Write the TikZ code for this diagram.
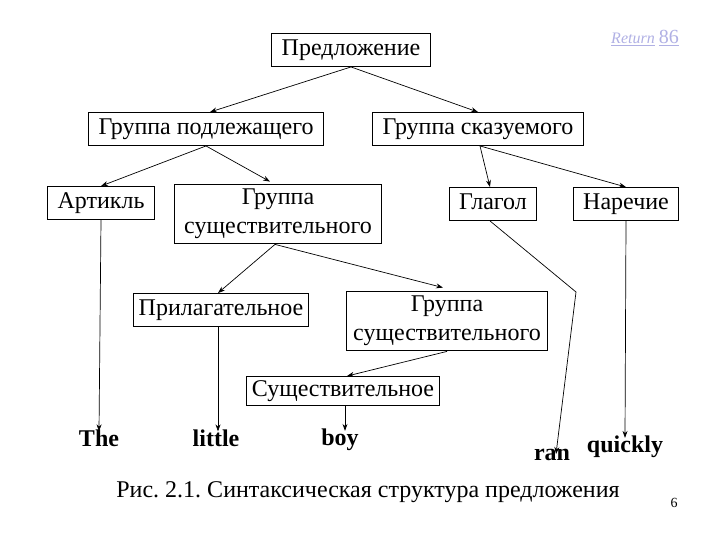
\documentclass[tikz,border=0pt]{standalone}
\usepackage{fontspec}
\setmainfont{Liberation Serif}
\usepackage{xcolor}
\usetikzlibrary{arrows.meta,positioning,calc}

\definecolor{retcol}{RGB}{176,176,228}
\frenchspacing

\begin{document}
\begin{tikzpicture}[
  x=1pt,y=-1pt,
  font=\fontsize{24}{29}\selectfont,
  box/.style={draw,line width=0.9pt,align=center,inner xsep=10pt,inner ysep=5pt},
  sbox/.style={box,text height=17pt,text depth=6pt},
  word/.style={font=\fontsize{24}{29}\selectfont\bfseries,inner sep=1pt},
  arr/.style={-{Stealth[length=7pt,width=5pt]},line width=0.7pt},
]
\useasboundingbox (0,0) rectangle (720,540);
% tree
\node[sbox] (sent) at (351,50) {Предложение};
\node[sbox] (subj) at (206,129) {Группа подлежащего};
\node[sbox] (pred) at (478,129) {Группа сказуемого};
\node[sbox] (art) at (101,203) {Артикль};
\node[box] (np1) at (278,214) {Группа\\существительного};
\node[sbox] (verb) at (493,204) {Глагол};
\node[sbox] (adv) at (626,204) {Наречие};
\node[sbox,inner xsep=5pt] (adj) at (221,310) {Прилагательное};
\node[box,inner xsep=7pt] (np2) at (447,321) {Группа\\существительного};
\node[sbox,inner xsep=5pt,inner ysep=3pt] (noun) at (343,391) {Существительное};
% words
\node[word] (the) at (99,438) {The};
\node[word] (little) at (216,438) {little};
\node[word] (boy) at (340,440) {boy};
\node[word] (ran) at (552,455) {ran};
\node[word] (quickly) at (625,447) {quickly};
\coordinate (bend) at (576,292);
% caption
\node (cap) at (368,492) {Рис. 2.1. Синтаксическая структура предложения};
\node[font=\fontsize{14}{16}\selectfont] (pg) at (674,503) {6};
\node[text=retcol,inner sep=0pt] (ret) at (645,38) {\fontsize{16}{18}\selectfont\underline{\textit{Return}} \fontsize{20}{22}\selectfont\underline{86}};

\draw[arr] (sent.south) -- ([xshift=4pt]subj.north);
\draw[arr] (sent.south) -- (pred.north);
\draw[arr] (subj.south) -- (art.north);
\draw[arr] (subj.south) -- ([xshift=-8pt,yshift=2pt]np1.north);
\draw[arr] ([xshift=2pt]pred.south) -- ([xshift=-3pt]verb.north);
\draw[arr] ([xshift=2pt]pred.south) -- (adv.north);
\draw[arr] ([xshift=-3pt]np1.south) -- ([xshift=-3pt]adj.north);
\draw[arr] ([xshift=-3pt]np1.south) -- ([xshift=-4pt,yshift=3pt]np2.north);
\draw[arr] (np2.south) -- ([xshift=4pt]noun.north);
\draw[arr] (art.south) -- ([yshift=-3pt]the.north);
\draw[arr] ([xshift=-3pt]adj.south) -- ([xshift=2pt,yshift=-3pt]little.north);
\draw[arr] ([xshift=2pt]noun.south) -- ([xshift=5pt,yshift=-3pt]boy.north);
\draw[arr] ([xshift=-3pt]verb.south) -- (bend) -- ([xshift=4pt,yshift=-6pt]ran.north);
\draw[arr] (adv.south) -- ([yshift=-3pt]quickly.north);
\end{tikzpicture}
\end{document}
